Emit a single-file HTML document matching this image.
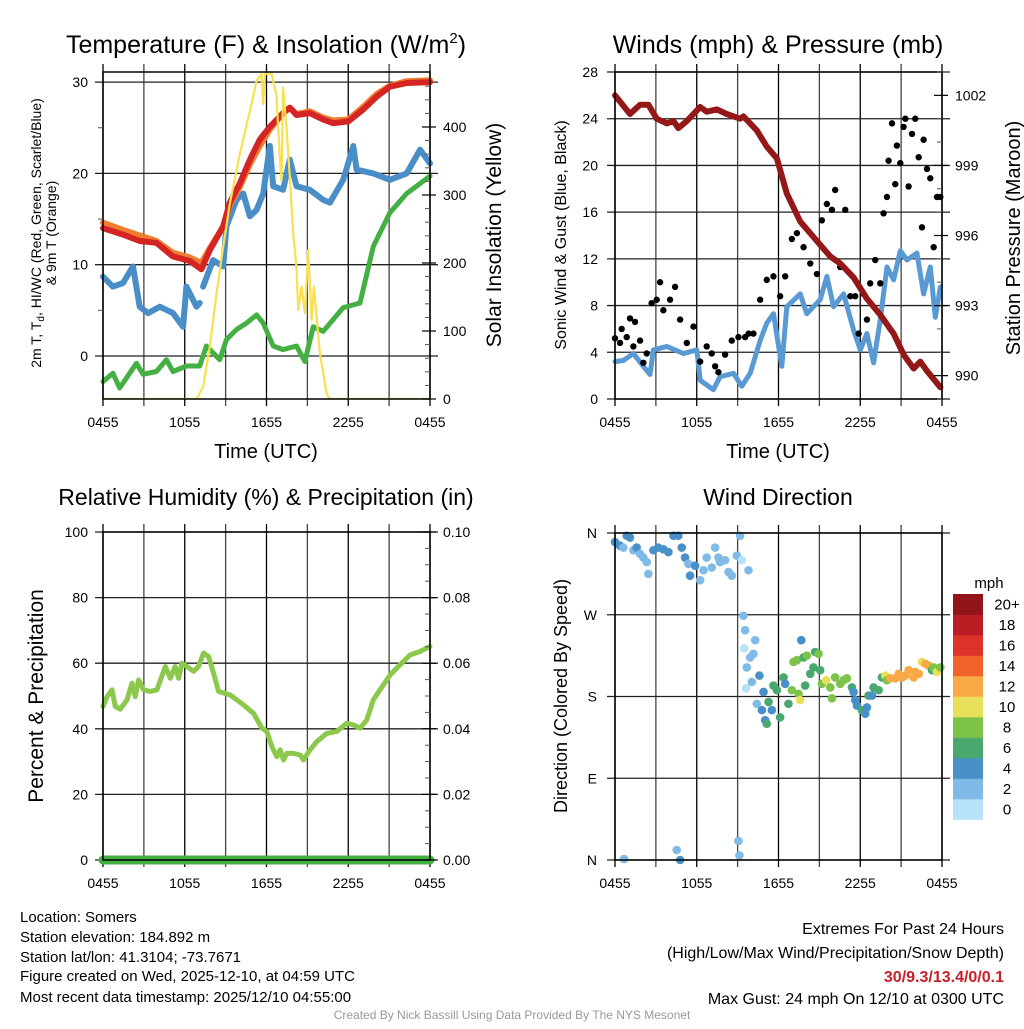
<!DOCTYPE html>
<html><head><meta charset="utf-8"><style>
html,body{margin:0;padding:0;background:#fff;}
svg text{font-family:"Liberation Sans",Arial,sans-serif;fill:#000;}
</style></head><body>
<svg id="chart" width="1024" height="1024" xmlns="http://www.w3.org/2000/svg">
<g id="grids"></g><g id="marks"></g><g id="axes"></g>
<text x="266" y="53" font-size="25" text-anchor="middle">Temperature (F) &amp; Insolation (W/m<tspan font-size="15" dy="-10">2</tspan><tspan dy="10">)</tspan></text>
<text x="778" y="53" font-size="25" text-anchor="middle">Winds (mph) &amp; Pressure (mb)</text>
<text x="266" y="505" font-size="23" text-anchor="middle">Relative Humidity (%) &amp; Precipitation (in)</text>
<text x="778" y="505" font-size="23" text-anchor="middle">Wind Direction</text>
<text x="266" y="458" font-size="20" text-anchor="middle">Time (UTC)</text>
<text x="778" y="458" font-size="20" text-anchor="middle">Time (UTC)</text>
<text transform="translate(41,233) rotate(-90)" font-size="14" text-anchor="middle">2m T, T<tspan font-size="10" dy="3">d</tspan><tspan dy="-3">, HI/WC (Red, Green, Scarlet/Blue)</tspan></text>
<text transform="translate(56,233) rotate(-90)" font-size="14" text-anchor="middle">&amp; 9m T (Orange)</text>
<text transform="translate(501,235) rotate(-90)" font-size="21" text-anchor="middle">Solar Insolation (Yellow)</text>
<text transform="translate(566,235) rotate(-90)" font-size="16" text-anchor="middle">Sonic Wind &amp; Gust (Blue, Black)</text>
<text transform="translate(1020,238) rotate(-90)" font-size="20" text-anchor="middle">Station Pressure (Maroon)</text>
<text transform="translate(43,696) rotate(-90)" font-size="21" text-anchor="middle">Percent &amp; Precipitation</text>
<text transform="translate(567,696) rotate(-90)" font-size="18" text-anchor="middle">Direction (Colored By Speed)</text>
<text x="989" y="588" font-size="15" text-anchor="middle">mph</text>
<g font-size="15">
<text x="20" y="922">Location: Somers</text>
<text x="20" y="942">Station elevation: 184.892 m</text>
<text x="20" y="962">Station lat/lon: 41.3104; -73.7671</text>
<text x="20" y="981">Figure created on Wed, 2025-12-10, at 04:59 UTC</text>
<text x="20" y="1002">Most recent data timestamp: 2025/12/10 04:55:00</text>
</g>
<g font-size="16" text-anchor="end">
<text x="1004" y="934">Extremes For Past 24 Hours</text>
<text x="1004" y="958">(High/Low/Max Wind/Precipitation/Snow Depth)</text>
<text x="1004" y="982" font-weight="bold" style="fill:#c8202a">30/9.3/13.4/0/0.1</text>
<text x="1004" y="1004">Max Gust: 24 mph On 12/10 at 0300 UTC</text>
</g>
<text x="512" y="1019" font-size="12" text-anchor="middle" style="fill:#999">Created By Nick Bassill Using Data Provided By The NYS Mesonet</text>
</svg>
<script>
// ---- data ----
const xTickLabels = ["0455","1055","1655","2255","0455"];
const tempTicks = [0,10,20,30];
const solarTicks = [0,100,200,300,400];
const windTicks = [0,4,8,12,16,20,24,28];
const presTicks = [990,993,996,999,1002];
const rhTicks = [0,20,40,60,80,100];
const precipTicks = ["0.00","0.02","0.04","0.06","0.08","0.10"];
const dirTicks = ["N","E","S","W","N"];
const speedBins = ["0","2","4","6","8","10","12","14","16","18","20+"];
const speedColors = ["#b8e2f8","#7fbbe6","#4a90c8","#48a870","#7dc34a","#e8e05a","#f8a844","#f0642a","#dc3428","#bc1c24","#901418"];

const redT = [0,1.47,2.69,3.92,5.14,6.37,7.22,7.84,8.82,9.31,10.04,10.78,11.51,12.24,13.22,13.71,14.2,15.18,16.16,16.9,18,19.1,20.08,21.06,22.3,24];
const redV = [14.0,13.3,12.6,12.4,10.9,10.4,9.5,11.6,14.2,16.8,18.9,21.5,23.7,25.1,26.6,27.2,26.4,26.6,25.9,25.5,25.7,27.0,28.4,29.5,29.9,30.0];
const orangeV = [14.6,13.8,13.2,12.6,11.3,10.8,10.2,11.8,14.2,16.5,18.5,21.0,23.0,24.8,26.6,27.2,26.5,26.8,26.1,25.8,25.9,27.3,28.7,29.6,30.1,30.2];
const blueT = [0,0.73,1.47,2.2,2.69,3.31,4.16,5.14,5.88,6.12,6.86,7.1,7.2,7.35,8.08,8.82,9.06,9.8,10.29,10.78,11.27,11.76,12.24,12.49,13.22,13.71,14.2,15.18,16.16,16.65,17.63,18.37,18.61,19.84,21.06,22.29,23.27,24];
const blueV = [8.7,7.6,8.0,9.8,5.4,4.7,5.4,4.7,3.2,7.6,5.4,5.8,null,7.6,10.5,9.8,14.2,17.1,17.8,15.3,16.0,17.8,23.0,18.6,18.2,21.5,18.6,18.2,17.1,16.8,19.3,23.0,20.4,20.0,19.3,20.0,22.6,21.1];
const greenT = [0,0.73,1.22,2.45,2.94,3.92,4.65,5.14,6.12,7.1,7.59,8.57,9.06,9.8,10.53,11.27,11.76,12.49,13.22,14.2,14.82,15.43,16.16,17.63,18.86,19.84,21.06,22.29,24];
const greenV = [-2.8,-1.9,-3.5,-0.8,-2.0,-1.7,-0.4,-1.7,-1.1,-1.1,1.1,-0.4,1.8,2.9,3.6,4.5,3.6,1.1,0.7,1.1,-0.6,3.2,2.7,5.3,5.8,12.0,15.7,17.8,19.7];
const solarT = [0,6.86,7.35,7.84,8.33,8.82,9.31,10.04,10.78,11.27,11.63,11.76,11.88,12.37,12.73,12.98,13.1,13.22,13.47,13.71,13.96,14.2,14.33,14.57,14.82,15.06,15.31,15.48,15.92,16.41,16.65,24];
const solarV = [0,0,18,77,155,224,287,360,424,468,478,434,478,478,448,351,321,458,400,326,243,194,131,165,126,219,116,165,67,8,0,0];

const windT = [0,0.61,1.35,2.08,2.57,2.82,3.8,5.02,6.0,6.25,7.22,7.71,8.69,9.31,9.92,10.65,11.14,11.63,12.24,12.61,13.59,14.08,15.06,15.55,16.04,16.78,17.51,18.0,18.49,18.98,19.47,19.96,20.45,20.94,21.43,22.16,22.65,23.14,23.51,23.88];
const windV = [3.2,3.3,3.9,2.8,2.1,4.2,4.5,3.9,4.2,1.6,0.8,1.9,2.2,1.1,2.2,5.0,6.5,7.3,2.8,7.9,9.0,7.3,8.5,10.5,7.9,9.0,5.9,4.2,5.6,3.1,6.8,11.3,10.2,12.7,11.9,12.5,9.0,11.3,7.0,9.6];
const gustT = [0,0.37,0.49,0.86,1.1,1.35,1.47,1.84,2.08,2.33,2.69,3.06,3.31,3.55,4.04,4.41,4.78,5.27,5.76,6.25,6.73,7.1,7.35,7.59,8.08,8.57,9.06,9.55,9.8,10.16,10.65,11.14,11.63,12.12,12.49,12.98,13.35,13.84,14.33,14.82,15.18,15.55,15.92,16.16,16.53,16.9,17.27,17.63,17.88,18.24,18.49,18.73,19.1,19.47,19.71,19.96,20.08,20.33,20.57,20.69,20.94,21.18,21.31,21.55,21.8,22.04,22.29,22.53,22.65,22.9,23.14,23.39,23.63,23.88];
const gustV = [5.2,4.8,6.0,5.3,6.9,4.5,6.6,5.0,3.1,3.9,8.2,8.5,10.0,7.6,8.5,9.6,6.8,4.8,6.2,3.2,4.5,3.9,2.8,2.3,3.8,5.0,5.3,5.3,5.6,5.6,8.5,10.2,10.5,8.8,10.5,13.7,14.2,13.0,11.6,10.7,15.3,16.7,16.2,17.9,11.3,16.2,8.8,8.8,5.6,9.0,6.8,9.9,11.9,9.9,15.9,17.3,20.4,23.6,18.4,21.7,20.2,23.3,24.0,18.2,22.7,24.0,20.7,14.7,22.2,19.7,18.9,13.0,17.3,17.3];
const presT = [0,1.1,1.84,2.45,3.06,3.8,4.29,4.65,5.27,6.25,6.73,7.47,8.2,9.18,9.43,10.41,11.14,11.88,12.61,13.1,13.59,14.33,15.06,15.8,16.53,17.51,18.49,19.47,20.45,21.18,21.92,22.41,22.9,23.88];
const presV = [1002.0,1001.2,1001.6,1001.6,1001.0,1000.8,1000.9,1000.6,1000.9,1001.5,1001.3,1001.4,1001.2,1001.0,1001.1,1000.5,999.8,999.3,997.8,997.2,996.6,996.1,995.6,995.1,994.8,994.2,993.3,992.6,991.8,990.9,990.3,990.6,990.2,989.5];

const rhT = [0,0.29,0.66,0.9,1.27,1.76,2.13,2.37,2.61,2.98,3.47,3.96,4.57,4.94,5.3,5.55,5.79,6.16,6.65,7.01,7.38,7.75,8.11,8.48,8.85,9.34,9.82,10.31,11.05,11.66,12.02,12.39,12.76,13.0,13.25,13.49,13.98,14.47,14.71,15.2,15.69,16.42,17.16,17.89,18.38,18.87,19.36,19.84,20.33,21.07,21.8,22.53,23.27,24];
const rhV = [46.8,49.8,51.9,46.8,46.0,48.8,53.9,49.8,54.9,51.9,51.4,51.9,59.0,55.4,59.0,55.4,60.0,59.0,57.5,59.0,63.1,62.0,57.0,51.4,50.9,50.3,48.8,47.3,44.7,40.2,39.2,34.6,31.5,33.6,30.5,32.5,32.5,32.0,30.5,33.6,36.1,38.6,39.2,41.7,41.2,40.2,42.7,48.8,51.9,56.4,59.5,62.5,63.6,65.1];
const precipT = [0,24];
const precipV = [0,0];

const dirT = [0,0.37,0.86,1.1,0.61,1.35,1.59,1.84,2.08,2.33,2.45,2.82,3.18,3.55,3.92,4.29,4.65,4.9,5.14,5.39,5.51,5.88,6.25,6.49,6.73,7.1,7.35,7.59,7.71,8.08,8.33,8.57,8.94,9.31,9.18,9.8,9.43,9.55,10.29,9.48,10.16,9.92,9.67,10.6,10.04,9.62,10.9,10.41,10.78,11.02,11.14,11.27,11.51,11.63,11.88,12.12,12.37,12.49,12.73,12.98,13.1,13.35,13.47,13.59,13.67,13.84,13.96,14.08,14.33,14.57,14.69,14.94,15.06,15.18,15.5,15.8,15.92,16.16,16.53,16.78,17.02,17.39,17.51,17.63,17.76,18.12,18.37,18.49,18.61,18.86,18.98,19.35,19.59,19.84,19.96,20.2,20.57,20.82,21.06,21.31,21.55,21.92,22.04,22.29,22.53,22.78,23.02,23.27,23.39,23.63,23.88,0.66,4.53,4.78,9.06,9.13];
const dirV = [350,346,357,355,344,341,344,337,333,328,315,341,344,342,339,357,357,344,333,326,313,324,308,319,333,322,344,333,328,330,317,313,335,330,357,319,269,253,242,233,227,223,212,203,196,189,185,172,165,154,150,174,165,192,187,157,201,194,172,187,218,220,183,176,242,223,192,225,205,212,229,227,209,194,198,190,178,201,194,198,200,190,185,176,170,165,161,168,181,181,190,187,201,203,198,200,200,205,201,203,209,201,207,205,218,216,214,209,212,207,212,1,11,0,21,5];
const dirSpd = [5,5,5,5,3,3,5,3,3,3,3,5,5,5,5,5,5,5,5,3,5,5,3,3,3,3,3,3,3,3,3,3,3,1,3,3,3,3,3,1,3,3,3,5,3,1,5,3,5,5,7,7,5,7,7,7,7,5,7,9,9,9,9,11,5,7,7,9,7,7,7,9,7,9,11,9,9,9,9,9,9,7,5,5,5,7,5,5,7,5,7,7,7,11,9,13,13,13,13,13,13,13,13,13,11,13,13,7,9,11,9,3,3,5,3,3];

// ---- helpers ----
const NS = "http://www.w3.org/2000/svg";
const G = document.getElementById('grids'), M = document.getElementById('marks'), A = document.getElementById('axes');
function mk(tag, attrs, parent){ const e=document.createElementNS(NS,tag); for(const k in attrs) e.setAttribute(k,attrs[k]); parent.appendChild(e); return e; }
function scale(d0,d1,r0,r1){ return v => r0 + (v-d0)/(d1-d0)*(r1-r0); }
function pathD(ts,vs,sx,sy){ let d="",pen=false; for(let i=0;i<ts.length;i++){ if(vs[i]===null){pen=false;continue;} d+=(pen?"L":"M")+sx(ts[i]).toFixed(1)+","+sy(vs[i]).toFixed(1); pen=true;} return d; }

function panel(x0,x1,y0,y1,name){
  for(let h=0;h<=24;h+=3){ const x=scale(0,24,x0,x1)(h);
    const l=mk('line',{x1:x,x2:x,y1:y0-8,y2:y1+7,stroke:(h%6===0?'#000':'#444'),'stroke-width':1.3},G);
    
    
  }
  xTickLabels.forEach((s,i)=>{ const t=mk('text',{x:scale(0,24,x0,x1)(i*6),y:y1+28,'font-size':14,'text-anchor':'middle'},A); t.textContent=s;
    
    
  });
  const r=mk('rect',{x:x0,y:y0,width:x1-x0,height:y1-y0,fill:'none',stroke:'#000','stroke-width':1.5},A);
  
  
}
function hgrid(x0,x1,ys,name){ ys.forEach(y=>{ const l=mk('line',{x1:x0-8,x2:x1+8,y1:y,y2:y,stroke:'#222','stroke-width':1.3},G);
  
   }); }
function leftLabels(x,ys,labels,name,fs){ ys.forEach((y,i)=>{ const t=mk('text',{x:x,y:y+5,'font-size':fs||14,'text-anchor':'end'},A); t.textContent=labels[i];
  
   }); }
function rightAxis(x,ys,labels,name,minor){ ys.forEach((y,i)=>{ mk('line',{x1:x-8,x2:x+6,y1:y,y2:y,stroke:'#000','stroke-width':1.2},A);
  const t=mk('text',{x:x+13,y:y+5,'font-size':14},A); t.textContent=labels[i];
  
   });
  (minor||[]).forEach(y=>mk('line',{x1:x-5,x2:x,y1:y,y2:y,stroke:'#555','stroke-width':1},A)); }
function line(ts,vs,sx,sy,color,w,name){ const p=mk('path',{d:pathD(ts,vs,sx,sy),fill:'none',stroke:color,'stroke-width':w,'stroke-linejoin':'round','stroke-linecap':'round'},M);
  
   return p; }

// ---- Panel 1: temperature ----
(function(){
  const x0=103,x1=430,y0=72,y1=399;
  const sx=scale(0,24,x0,x1), sy=scale(0,10,356,264.7), ss=scale(0,100,399,331);
  panel(x0,x1,y0,y1,'temp');
  hgrid(x0,x1,tempTicks.map(sy),'temp');
  leftLabels(88,tempTicks.map(sy),tempTicks,'temp-y');
  [5,15,25].forEach(v=>mk('line',{x1:x0-5,x2:x0,y1:sy(v),y2:sy(v),stroke:'#555'},A));
  const minor=[]; for(let w=20;w<480;w+=20) if(w%100) minor.push(ss(w));
  rightAxis(x1,solarTicks.map(ss),solarTicks,'solar-y',minor);
  line(greenT,greenV,sx,sy,'#44b044',5,'dewpoint-line');
  line(blueT,blueV,sx,sy,'#4a8ec8',6,'heat-index-wind-chill-line');
  line(redT,orangeV,sx,sy,'#f07c30',6,'temp-9m-line');
  line(redT,redV,sx,sy,'#d42424',6,'temp-2m-line');
  const cp=mk('clipPath',{id:'c1'},M); mk('rect',{x:x0,y:y0,width:x1-x0,height:y1-y0},cp);
  const s=line(solarT,solarV,sx,ss,'#f8e050',2.2,'solar-insolation-line'); s.setAttribute('clip-path','url(#c1)');
})();

// ---- Panel 2: winds & pressure ----
(function(){
  const x0=615,x1=942,y0=72,y1=399;
  const sx=scale(0,24,x0,x1), sy=scale(0,28,399,72), sp=scale(989,1003,399,72);
  panel(x0,x1,y0,y1,'wind');
  hgrid(x0,x1,windTicks.map(sy),'wind');
  leftLabels(598,windTicks.map(sy),windTicks,'wind-y');
  const minor=[]; for(let p=989;p<=1003;p++) if((p-990)%3) minor.push(sp(p));
  rightAxis(x1,presTicks.map(sp),presTicks,'pressure-y',minor);
  line(windT,windV,sx,sy,'#5a9ad4',5,'sonic-wind-line');
  gustT.forEach((t,i)=>{ const c=mk('circle',{cx:sx(t),cy:sy(gustV[i]),r:3.2,fill:'#000'},M);
    
     });
  line(presT,presV,sx,sp,'#941818',6,'pressure-line');
})();

// ---- Panel 3: RH & precip ----
(function(){
  const x0=103,x1=430,y0=532,y1=860;
  const sx=scale(0,24,x0,x1), sy=scale(0,100,860,532), sq=scale(0,0.1,860,532);
  panel(x0,x1,y0,y1,'rh');
  hgrid(x0,x1,rhTicks.map(sy),'rh');
  leftLabels(88,rhTicks.map(sy),rhTicks,'rh-y');
  const minor=[]; for(let k=1;k<20;k++) if(k%4) minor.push(sq(k*0.005));
  rightAxis(x1,precipTicks.map(v=>sq(+v)),precipTicks,'precip-y',minor);
  line(rhT,rhV,sx,sy,'#8cc84c',5,'relative-humidity-line');
  line(precipT,precipV,sx,sq,'#44b044',9,'precipitation-line');
})();

// ---- Panel 4: wind direction ----
(function(){
  const x0=615,x1=942,y0=533,y1=860;
  const sx=scale(0,24,x0,x1), sy=scale(0,360,860,533);
  panel(x0,x1,y0,y1,'dir');
  hgrid(x0,x1,[0,90,180,270,360].map(sy),'dir');
  leftLabels(597,[0,90,180,270,360].map(sy),dirTicks,'dir-y');
  dirT.forEach((t,i)=>{ const b=Math.min(10,Math.floor(dirSpd[i]/2));
    const c=mk('circle',{cx:sx(t),cy:sy(dirV[i]),r:4.3,fill:speedColors[b]},M);
    
     });
  const cb0=594, cbh=20.5;
  speedBins.forEach((lab,i)=>{ const y=cb0+(10-i)*cbh;
    const r=mk('rect',{x:953,y:y,width:30,height:cbh+0.3,fill:speedColors[i]},A);
    
    
    const t=mk('text',{x:1007,y:y+cbh/2+5,'font-size':15,'text-anchor':'middle'},A); t.textContent=lab;
    
     });
})();
</script>
</body></html>
